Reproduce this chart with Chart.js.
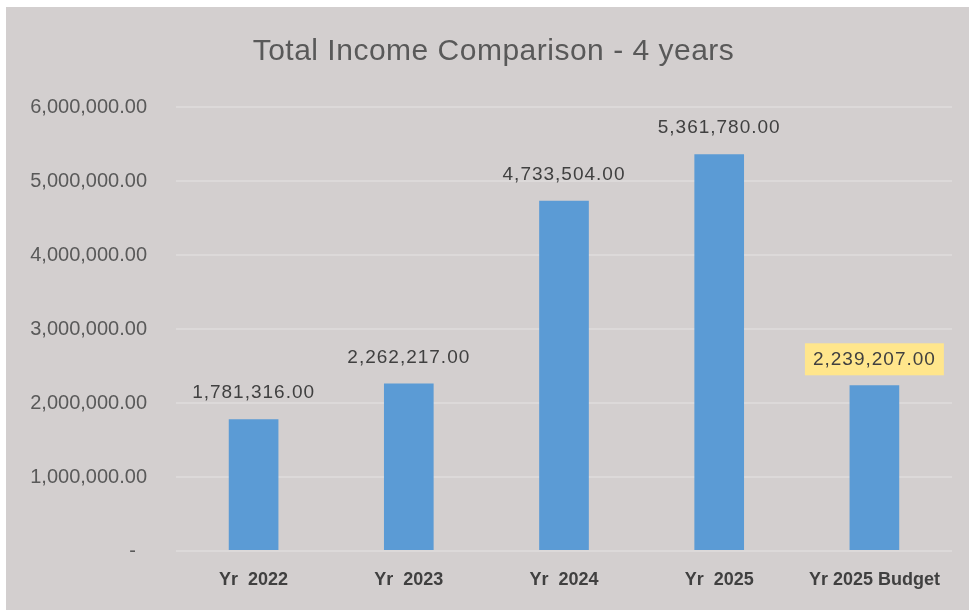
<!DOCTYPE html>
<html lang="en">

<head>
  <meta charset="UTF-8">
  <meta name="viewport" content="width=device-width, initial-scale=1.0">
  <title>Total Income Comparison</title>
  <script src="https://cdn.jsdelivr.net/npm/chart.js"></script>
  <style>
    body {
      margin: 0;
      background: #ffffff;
    }

    .grafico {
      position: absolute;
      left: 6px;
      top: 7px;
      width: 963px;
      height: 603px;
      background: #d3cfcf;
    }
  </style>
</head>

<body>
  <div class="grafico">
    <canvas id="rendaTotal"></canvas>
  </div>

  <script>
    // anos comparados e renda total de cada um
    const anos = ['Yr  2022', 'Yr  2023', 'Yr  2024', 'Yr  2025', 'Yr 2025 Budget'];
    const renda = [1781316, 2262217, 4733504, 5361780, 2239207];
    const ticksEixoY = [0, 1000000, 2000000, 3000000, 4000000, 5000000, 6000000];
    const titulo = 'Total Income Comparison - 4 years';

    const fonte = '"Liberation Sans", sans-serif';

    function formatar(valor) {
      if (valor === 0) return '-  ';
      return valor.toLocaleString('en-US', { minimumFractionDigits: 2, maximumFractionDigits: 2 });
    }

    // título desenhado à mão para ficar centralizado na caixa toda
    const cabecalho = {
      id: 'cabecalho',
      afterDraw(chart) {
        const ctx = chart.ctx;
        ctx.save();
        ctx.font = '30px ' + fonte;
        ctx.letterSpacing = '0.5px';
        ctx.fillStyle = '#595959';
        ctx.textAlign = 'center';
        ctx.textBaseline = 'middle';
        ctx.fillText(titulo, chart.width / 2 + 6, 45);
        ctx.restore();
      }
    };

    // escreve o valor em cima de cada barra (o orçamento vai com fundo amarelo)
    const rotulos = {
      id: 'rotulos',
      afterDatasetsDraw(chart) {
        const ctx = chart.ctx;
        const barras = chart.getDatasetMeta(0).data;
        ctx.save();
        ctx.font = '19px ' + fonte;
        ctx.letterSpacing = '1px';
        ctx.textAlign = 'center';
        ctx.textBaseline = 'middle';
        barras.forEach(function (barra, i) {
          const texto = formatar(renda[i]);
          const y = barra.y - 26;
          if (i === renda.length - 1) {
            const largura = ctx.measureText(texto).width + 16;
            ctx.fillStyle = '#ffe68c';
            ctx.fillRect(barra.x - largura / 2, y - 16, largura, 32);
          }
          ctx.fillStyle = '#404040';
          ctx.fillText(texto, barra.x, y);
        });
        ctx.restore();
      }
    };

    const config = {
      type: 'bar',
      data: {
        labels: anos,
        datasets: [{
          label: 'Total Income',
          data: renda,
          backgroundColor: '#5b9bd5',
          borderWidth: 0,
          categoryPercentage: 1,
          barPercentage: 0.32
        }]
      },
      options: {
        responsive: true,
        maintainAspectRatio: false,
        animation: false,
        layout: {
          padding: { left: 0, right: 17, top: 100, bottom: 0 }
        },
        plugins: {
          legend: { display: false },
          tooltip: { enabled: false },
          title: { display: false }
        },
        scales: {
          x: {
            grid: { display: false },
            border: { display: false },
            ticks: {
              color: '#404040',
              font: { family: fonte, size: 18, weight: 'bold' },
              padding: 10,
              maxRotation: 0
            },
            afterFit(escala) { escala.height = 59; }
          },
          y: {
            min: 0,
            max: 6000000,
            afterBuildTicks(escala) {
              escala.ticks = ticksEixoY.map(function (v) { return { value: v }; });
            },
            grid: { color: '#dcd9d9', lineWidth: 2, drawTicks: false },
            border: { display: false },
            ticks: {
              color: '#595959',
              font: { family: fonte, size: 20 },
              padding: 29,
              callback: function (valor) { return formatar(valor); }
            },
            afterFit(escala) { escala.width = 170; }
          }
        }
      },
      plugins: [rotulos, cabecalho]
    };

    new Chart(document.getElementById('rendaTotal'), config);
  </script>
</body>

</html>
